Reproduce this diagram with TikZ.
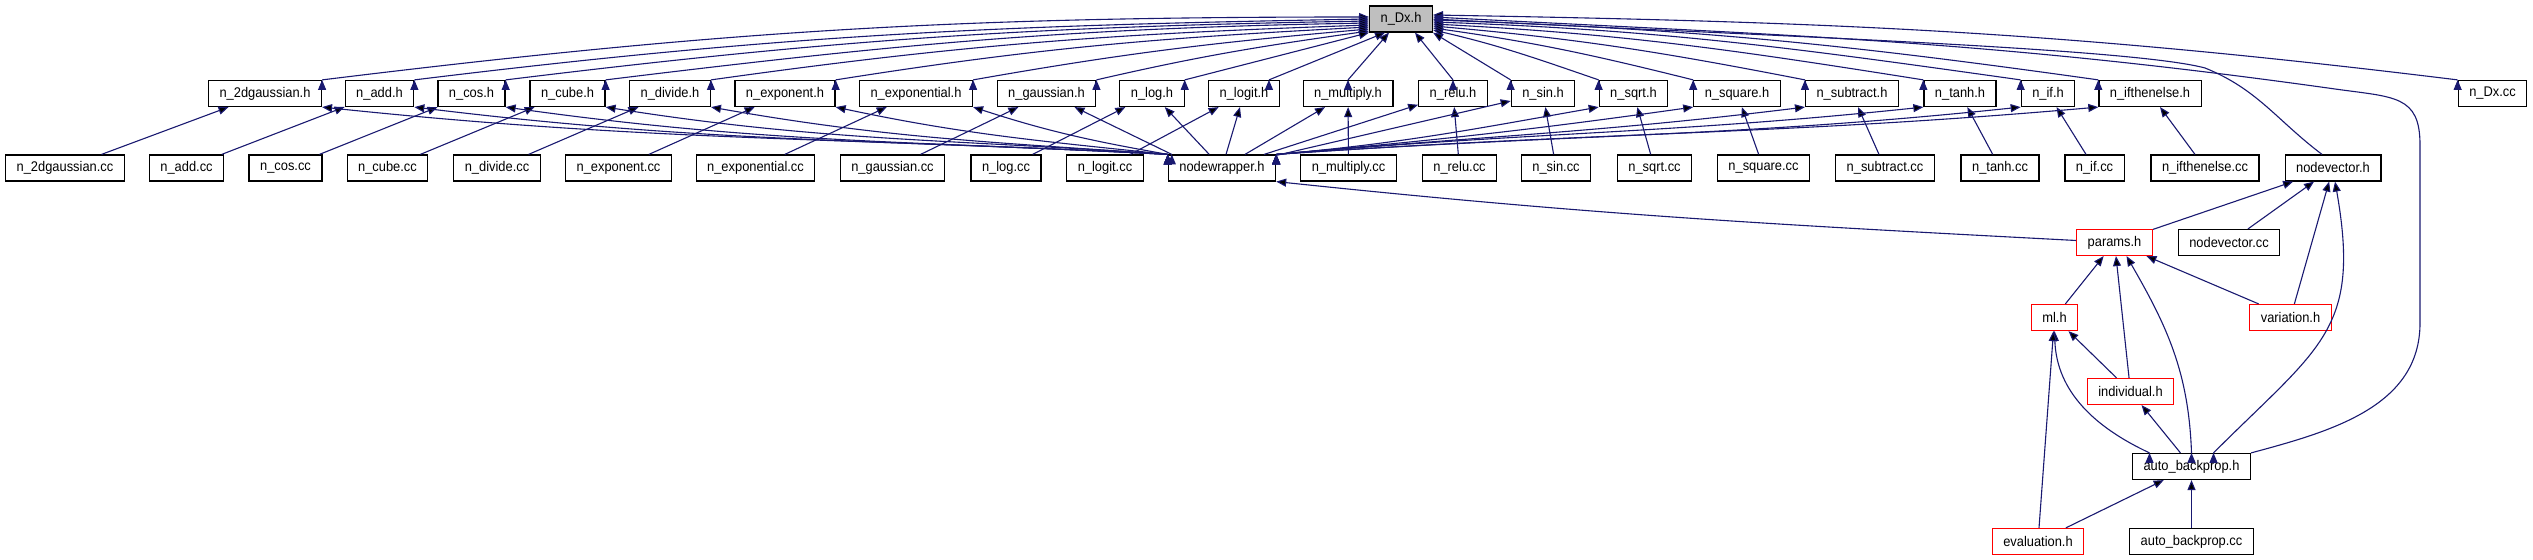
\documentclass[tikz,border=0pt]{standalone}
\usepackage{fontspec}
\setmainfont{Liberation Sans}[FakeStretch=0.92]
\usetikzlibrary{arrows.meta}
\definecolor{edgeblue}{RGB}{25,25,112}
\definecolor{rootgray}{RGB}{191,191,191}

\begin{document}
\begin{tikzpicture}[x=0.5pt, y=0.5pt,
  dep/.style={draw=edgeblue, line width=0.55pt, -{Triangle[length=5pt, width=4pt]}}]
 \useasboundingbox (0,0) rectangle (2533,-560);
 \begin{scope}[every node/.style={draw, fill=white, line width=0.6pt, minimum height=13pt,
                      inner xsep=5.5pt, inner ysep=0pt, font=\fontsize{7}{8}\selectfont}]
  \node[fill=rootgray] (ndxh) at (1401,-19) {n\_Dx.h};
  % headers
  \node (n2dgh) at (265,-93.5) {n\_2dgaussian.h};
  \node (naddh) at (379.5,-93.5) {n\_add.h};
  \node (ncosh) at (471.5,-93.5) {n\_cos.h};
  \node (ncubeh) at (567.5,-93.5) {n\_cube.h};
  \node (ndivh) at (670,-93.5) {n\_divide.h};
  \node (nexph) at (785,-93.5) {n\_exponent.h};
  \node (nexplh) at (916,-93.5) {n\_exponential.h};
  \node (ngaussh) at (1046.5,-93.5) {n\_gaussian.h};
  \node (nlogh) at (1152,-93.5) {n\_log.h};
  \node (nlogith) at (1244,-93.5) {n\_logit.h};
  \node (nmulh) at (1348,-93.5) {n\_multiply.h};
  \node (nreluh) at (1453,-93.5) {n\_relu.h};
  \node (nsinh) at (1543,-93.5) {n\_sin.h};
  \node (nsqrth) at (1633.5,-93.5) {n\_sqrt.h};
  \node (nsqh) at (1737,-93.5) {n\_square.h};
  \node (nsubh) at (1852,-93.5) {n\_subtract.h};
  \node (ntanhh) at (1960,-93.5) {n\_tanh.h};
  \node (nifh) at (2048,-93.5) {n\_if.h};
  \node (nifteh) at (2150,-93.5) {n\_ifthenelse.h};
  \node (ndxcc) at (2492.5,-93.5) {n\_Dx.cc};
  % sources
  \node (n2dgcc) at (65,-168) {n\_2dgaussian.cc};
  \node (naddcc) at (186.5,-168) {n\_add.cc};
  \node (ncoscc) at (285.5,-168) {n\_cos.cc};
  \node (ncubecc) at (387.5,-168) {n\_cube.cc};
  \node (ndivcc) at (497,-168) {n\_divide.cc};
  \node (nexpcc) at (618.5,-168) {n\_exponent.cc};
  \node (nexplcc) at (755.5,-168) {n\_exponential.cc};
  \node (ngausscc) at (892.5,-168) {n\_gaussian.cc};
  \node (nlogcc) at (1006,-168) {n\_log.cc};
  \node (nlogitcc) at (1105,-168) {n\_logit.cc};
  \node (nwh) at (1222,-168) {nodewrapper.h};
  \node (nmulcc) at (1348.5,-168) {n\_multiply.cc};
  \node (nrelucc) at (1459.5,-168) {n\_relu.cc};
  \node (nsincc) at (1556,-168) {n\_sin.cc};
  \node (nsqrtcc) at (1654.5,-168) {n\_sqrt.cc};
  \node (nsqcc) at (1763.5,-168) {n\_square.cc};
  \node (nsubcc) at (1885,-168) {n\_subtract.cc};
  \node (ntanhcc) at (2000,-168) {n\_tanh.cc};
  \node (nifcc) at (2094.5,-168) {n\_if.cc};
  \node (nifecc) at (2205,-168) {n\_ifthenelse.cc};
  \node (nvh) at (2333,-168) {nodevector.h};
  \node (nvcc) at (2229,-242.5) {nodevector.cc};
  \node (abh) at (2191.5,-466.5) {auto\_backprop.h};
  \node (abcc) at (2191.5,-541.5) {auto\_backprop.cc};
 \end{scope}
 \begin{scope}[every node/.style={draw=red, fill=white, line width=0.6pt, minimum height=13pt,
                      inner xsep=5.5pt, inner ysep=0pt, font=\fontsize{7}{8}\selectfont}]
  \node (parh) at (2114.5,-242.5) {params.h};
  \node (mlh) at (2054.5,-317.5) {ml.h};
  \node (varh) at (2290.5,-317.5) {variation.h};
  \node (indh) at (2130.5,-391.5) {individual.h};
  \node (evalh) at (2038,-541.5) {evaluation.h};
 \end{scope}
 \coordinate (ablow) at (2420,-323);
 \coordinate (abtop) at (2420,-145);
 \coordinate (abturn) at (2335,-89);
 \coordinate (nvturn) at (2205,-68);
  % everything -> n_Dx.h
  \path [dep] (n2dgh.north east) edge[out=7, in=180] ([yshift=1pt]ndxh.west);
  \path [dep] (naddh.north east) edge[out=7, in=181] (ndxh.west);
  \path [dep] (ncosh.north east) edge[out=7, in=181] ([yshift=-1pt]ndxh.west);
  \path [dep] (ncubeh.north east) edge[out=7, in=181] ([yshift=-2pt]ndxh.west);
  \path [dep] (ndivh.north east) edge[out=8, in=182] ([yshift=-3pt]ndxh.west);
  \path [dep] (nexph.north east) edge[out=9, in=183] ([yshift=-4pt]ndxh.west);
  \path [dep] (nexplh.north east) edge[out=10, in=185] ([yshift=-5pt]ndxh.west);
  \path [dep] (ngaussh.north east) edge[out=13, in=188] ([yshift=-6pt]ndxh.west);
  \path [dep] (nlogh.north east) edge (ndxh.south west);
  \path [dep] ([xshift=-5.5pt]nlogith.north east) edge ([xshift=8pt]ndxh.south west);
  \path [dep] (nmulh.north) edge ([xshift=-6pt]ndxh.south);
  \path [dep] (nreluh.north) edge ([xshift=7pt]ndxh.south);
  \path [dep] (nsinh.north west) edge (ndxh.south east);
  \path [dep] (nsqrth.north west) edge[out=161, in=-13] ([yshift=-5.5pt]ndxh.east);
  \path [dep] (nsqh.north west) edge[out=166, in=-8] ([yshift=-4.5pt]ndxh.east);
  \path [dep] (nsubh.north west) edge[out=169, in=-5] ([yshift=-3.5pt]ndxh.east);
  \path [dep] (ntanhh.north west) edge[out=171, in=-3] ([yshift=-2.5pt]ndxh.east);
  \path [dep] (nifh.north west) edge[out=172, in=-2] ([yshift=-1.5pt]ndxh.east);
  \path [dep] (nifteh.north west) edge[out=172, in=-2] ([yshift=-0.5pt]ndxh.east);
  \path [dep] (ndxcc.north west) edge[out=173, in=-1] ([yshift=2pt]ndxh.east);
  \draw [dep] ([xshift=-5.5pt]nvh.north) to[out=143, in=-22] (nvturn)
     to[out=165, in=-3, out distance=40pt] (ndxh.east);
  \draw [dep] (abh.north east) to[out=15, in=-90] (ablow) -- (abtop)
     to[out=90, in=-8, out distance=25pt, in distance=30pt] (abturn)
     to[out=172, in=-3] ([yshift=1pt]ndxh.east);
  % sources -> headers
  \path [dep] (n2dgcc) edge (n2dgh);
  \path [dep] (naddcc) edge (naddh);
  \path [dep] (ncoscc) edge (ncosh);
  \path [dep] (ncubecc) edge (ncubeh);
  \path [dep] (ndivcc) edge (ndivh);
  \path [dep] (nexpcc) edge (nexph);
  \path [dep] (nexplcc) edge (nexplh);
  \path [dep] (ngausscc) edge (ngaussh);
  \path [dep] (nlogcc) edge (nlogh);
  \path [dep] (nlogitcc) edge (nlogith);
  \path [dep] (nmulcc) edge (nmulh);
  \path [dep] (nrelucc) edge (nreluh);
  \path [dep] (nsincc) edge (nsinh);
  \path [dep] (nsqrtcc) edge (nsqrth);
  \path [dep] (nsqcc) edge (nsqh);
  \path [dep] (nsubcc) edge (nsubh);
  \path [dep] (ntanhcc) edge (ntanhh);
  \path [dep] (nifcc) edge (nifh);
  \path [dep] (nifecc) edge (nifteh);
  % nodewrapper.h -> headers
  \path [dep] (nwh.north west) edge[out=177, in=-6] (n2dgh.south east);
  \path [dep] (nwh.north west) edge[out=177, in=-7] (naddh.south east);
  \path [dep] (nwh.north west) edge[out=177, in=-8] (ncosh.south east);
  \path [dep] (nwh.north west) edge[out=176, in=-9] (ncubeh.south east);
  \path [dep] (nwh.north west) edge[out=176, in=-10] (ndivh.south east);
  \path [dep] (nwh.north west) edge[out=174, in=-12] (nexph.south east);
  \path [dep] (nwh.north west) edge[out=170, in=-18] (nexplh.south east);
  \path [dep] ([xshift=2pt]nwh.north west) edge (ngaussh);
  \path [dep] (nwh) edge (nlogh);
  \path [dep] (nwh) edge (nlogith);
  \path [dep] (nwh) edge (nmulh);
  \path [dep] (nwh) edge (nreluh);
  \path [dep] (nwh) edge (nsinh);
  \path [dep] (nwh.north east) edge[out=5, in=190] (nsqrth.south west);
  \path [dep] (nwh.north east) edge[out=5, in=188] (nsqh.south west);
  \path [dep] (nwh.north east) edge[out=5, in=187] (nsubh.south west);
  \path [dep] (nwh.north east) edge[out=5, in=186] (ntanhh.south west);
  \path [dep] (nwh.north east) edge[out=4, in=186] (nifh.south west);
  \path [dep] (nwh.north east) edge[out=4, in=185] (nifteh.south west);
  % lower part
  \path [dep] (parh) edge[out=177, in=-6] (nwh.south east);
  \path [dep] (parh) edge (nvh);
  \path [dep] (nvcc) edge (nvh);
  \path [dep] (varh) edge (nvh);
  \path [dep] ([xshift=11pt]abh.north) edge[out=45, in=-80, looseness=1.3] ([xshift=1pt]nvh.south);
  \path [dep] (mlh) edge (parh);
  \path [dep] (indh) edge (parh);
  \path [dep] (varh) edge (parh);
  \path [dep] (abh.north) edge[out=92, in=-60] ([xshift=6pt]parh.south);
  \path [dep] (indh) edge (mlh);
  \path [dep] ([xshift=-21pt]abh.north) edge[out=155, in=-88] (mlh.south);
  \path [dep] (evalh) edge (mlh);
  \path [dep] (abh) edge (indh);
  \path [dep] (evalh) edge (abh);
  \path [dep] (abcc) edge (abh);
\end{tikzpicture}
\end{document}
